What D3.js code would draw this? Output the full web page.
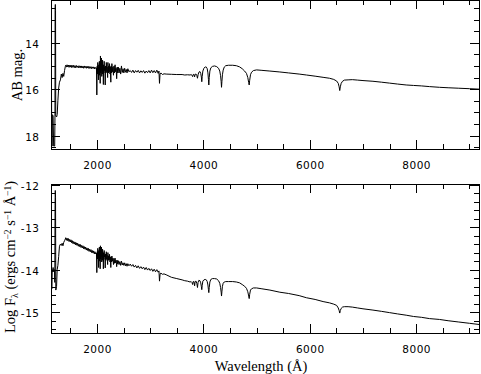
<!DOCTYPE html>
<html>
<head>
<meta charset="utf-8">
<script src="https://cdn.jsdelivr.net/npm/d3@7"></script>
<style>
  body { margin: 0; background: #fff; }
  .tick text { font-family: "DejaVu Sans", sans-serif; font-size: 10.5px; letter-spacing: 0.5px; fill: #000; }
  .title { font-family: "Liberation Serif", "DejaVu Serif", serif; font-size: 14.5px; fill: #000; }
</style>
</head>
<body>
<svg id="spec"></svg>
<script>
// wavelength ticks (Angstrom)
const waveMajor = [2000, 4000, 6000, 8000];
const waveMinor = [1500, 2000, 2500, 3000, 3500, 4000, 4500, 5000, 5500, 6000, 6500, 7000, 7500, 8000, 8500, 9000];
// AB mag ticks
const magMajor = [14, 16, 18];
const magMinor = [12.5, 13, 13.5, 14, 14.5, 15, 15.5, 16, 16.5, 17, 17.5, 18, 18.5];
// log flux ticks
const fluxMajor = [-12, -13, -14, -15];
const fluxMinor = [-12.2, -12.4, -12.6, -12.8, -13, -13.2, -13.4, -13.6, -13.8, -14, -14.2, -14.4, -14.6, -14.8, -15, -15.2, -15.4];

// spectrum: [wavelength, AB mag]
const abMag = [
  [1146,16.4],[1150,18.45],[1158,18.45],[1162,17.1],[1175,17.15],[1185,18.45],[1205,18.45],[1210,17.2],
  [1213,12.5],[1217,12.35],[1221,12.6],[1225,17.15],[1240,17.2],[1252,17.1],[1265,16.5],[1280,15.95],
  [1295,15.7],[1313,15.6],[1330,15.35],[1345,15.5],[1360,15.32],[1375,15.45],[1390,15.2],[1405,15.02],
  [1412,14.97],[1425,15.05],[1437,14.95],[1450,15.04],[1462,14.96],[1475,15.06],[1487,14.97],[1500,15.05],
  [1512,14.96],[1525,15.07],[1537,14.98],[1550,15.06],[1562,14.97],[1575,15.07],[1587,14.99],[1600,15.08],
  [1612,14.98],[1625,15.06],[1637,15.0],[1650,15.08],[1662,14.99],[1675,15.07],[1687,15.0],[1700,15.09],
  [1712,15.0],[1725,15.08],[1737,15.01],[1750,15.1],[1762,15.0],[1775,15.08],[1787,15.02],[1800,15.1],
  [1812,15.01],[1825,15.09],[1837,15.02],[1850,15.11],[1862,15.03],[1875,15.1],[1887,15.03],[1900,15.12],
  [1912,15.04],[1925,15.1],[1937,15.04],[1950,15.13],[1962,15.05],[1975,15.11],[1990,15.08],
  [1997,16.25],[2003,15.2],
  [2005,15.0],[2010,15.35],[2015,14.85],[2020,15.3],[2025,15.05],[2030,15.6],[2035,14.95],[2040,15.25],
  [2045,14.8],[2050,15.4],[2055,15.0],[2060,15.75],[2065,14.57],[2070,15.3],[2075,14.9],[2080,15.2],
  [2085,14.66],[2090,15.45],[2095,15.0],[2100,15.35],[2105,14.75],[2110,15.25],[2115,15.0],[2120,15.8],
  [2125,14.95],[2130,15.3],[2135,14.8],[2140,15.2],[2150,15.05],[2155,15.82],[2160,15.0],[2170,15.3],
  [2175,14.85],[2185,15.25],[2190,15.05],[2200,15.5],[2205,14.85],[2215,15.3],[2220,15.0],[2230,15.25],
  [2235,14.9],[2245,15.35],[2250,15.05],[2260,15.7],[2265,15.0],[2275,15.3],[2280,14.9],[2290,15.25],
  [2300,15.05],[2310,15.4],[2320,15.0],[2330,15.3],[2340,14.95],[2350,15.25],[2360,15.1],[2370,15.55],
  [2380,15.05],[2390,15.3],[2400,15.05],[2415,15.3],[2430,15.1],[2445,15.35],[2460,15.0],[2475,15.28],
  [2490,15.12],[2505,15.3],[2520,15.1],[2535,15.27],[2550,15.15],[2565,15.3],[2580,15.12],[2600,15.25],
  [2625,15.2],[2650,15.28],[2675,15.18],[2700,15.3],[2725,15.2],[2750,15.27],[2775,15.19],[2800,15.3],
  [2825,15.21],[2850,15.28],[2875,15.2],[2900,15.31],[2925,15.22],[2950,15.29],[2975,15.2],[3000,15.3],
  [3025,15.18],[3050,15.29],[3075,15.2],[3100,15.3],[3125,15.18],[3150,15.32],[3165,15.22],[3175,15.75],
  [3185,15.35],[3200,15.3],[3230,15.37],[3260,15.34],[3300,15.35],[3400,15.36],[3500,15.37],[3600,15.37],
  [3650,15.39],[3700,15.38],
  [3750,15.39],[3770,15.37],[3785,15.4],[3798,15.46],[3808,15.37],[3822,15.36],[3835,15.47],[3845,15.36],
  [3862,15.35],[3878,15.42],[3889,15.53],[3900,15.38],[3915,15.27],[3935,15.24],[3950,15.32],[3962,15.48],
  [3970,15.68],[3978,15.45],[3990,15.22],[4010,15.1],[4035,15.04],[4055,15.05],[4072,15.12],[4085,15.3],
  [4095,15.58],[4102,15.82],[4110,15.5],[4122,15.22],[4140,15.08],[4170,15.02],[4210,15.0],[4250,15.03],
  [4285,15.1],[4308,15.22],[4323,15.42],[4334,15.68],[4341,15.92],[4348,15.68],[4358,15.38],[4372,15.18],
  [4392,15.05],[4420,14.99],[4470,14.97],[4550,14.97],[4620,14.99],[4680,15.04],[4730,15.12],[4775,15.22],
  [4810,15.32],[4835,15.5],[4852,15.72],[4861,15.82],[4870,15.62],[4885,15.38],[4905,15.27],[4940,15.2],
  [5000,15.17],
  [5100,15.19],[5250,15.22],[5437,15.26],[5600,15.3],[5800,15.35],[5937,15.39],[6100,15.44],[6250,15.49],
  [6370,15.53],[6450,15.58],[6505,15.65],[6535,15.75],[6552,15.9],[6563,16.06],[6574,15.9],[6590,15.75],
  [6615,15.66],[6650,15.61],[6720,15.6],[6800,15.59],[6900,15.61],[7000,15.63],[7187,15.66],[7350,15.7],
  [7500,15.74],[7650,15.78],[7812,15.82],[7950,15.84],[8100,15.86],[8250,15.89],[8437,15.92],[8600,15.94],
  [8800,15.96],[9000,15.98],[9190,16.0]
];

// spectrum: [wavelength, log F_lambda]
const logFlux = [
  [1146,-13.76],[1150,-14.45],[1158,-14.0],[1165,-14.05],[1175,-13.95],[1185,-14.05],[1200,-14.0],[1207,-14.3],
  [1212,-12.5],[1216,-12.14],[1221,-12.3],[1226,-14.48],[1240,-14.4],[1252,-14.0],[1265,-13.9],[1280,-13.69],
  [1295,-13.45],[1313,-13.4],[1330,-13.43],[1345,-13.38],[1360,-13.44],[1375,-13.36],[1390,-13.32],[1405,-13.28],
  [1412,-13.25],[1425,-13.31],[1437,-13.26],[1450,-13.32],[1462,-13.27],[1475,-13.34],[1487,-13.29],[1500,-13.35],
  [1512,-13.3],[1525,-13.37],[1537,-13.32],[1550,-13.39],[1562,-13.34],[1575,-13.4],[1587,-13.35],[1600,-13.42],
  [1612,-13.37],[1625,-13.43],[1637,-13.38],[1650,-13.45],[1662,-13.4],[1675,-13.46],[1687,-13.41],[1700,-13.48],
  [1712,-13.43],[1725,-13.49],[1737,-13.44],[1750,-13.51],[1762,-13.46],[1775,-13.52],[1787,-13.47],[1800,-13.54],
  [1812,-13.49],[1825,-13.55],[1837,-13.5],[1850,-13.57],[1862,-13.52],[1875,-13.58],[1887,-13.53],[1900,-13.6],
  [1912,-13.55],[1925,-13.61],[1937,-13.56],[1950,-13.63],[1962,-13.58],[1975,-13.63],[1990,-13.61],
  [1997,-14.07],[2003,-13.65],
  [2005,-13.58],[2010,-13.75],[2015,-13.5],[2020,-13.72],[2025,-13.6],[2030,-13.95],[2035,-13.55],[2040,-13.72],
  [2045,-13.47],[2050,-13.8],[2055,-13.6],[2060,-13.98],[2065,-13.44],[2070,-13.75],[2075,-13.55],[2080,-13.7],
  [2085,-13.47],[2090,-13.82],[2095,-13.6],[2100,-13.78],[2105,-13.52],[2110,-13.72],[2115,-13.62],[2120,-13.98],
  [2125,-13.6],[2130,-13.76],[2135,-13.55],[2140,-13.7],[2150,-13.65],[2155,-13.96],[2160,-13.63],[2170,-13.78],
  [2175,-13.58],[2185,-13.75],[2190,-13.66],[2200,-13.88],[2205,-13.6],[2215,-13.78],[2220,-13.68],[2230,-13.77],
  [2235,-13.64],[2245,-13.82],[2250,-13.7],[2260,-13.95],[2265,-13.7],[2275,-13.82],[2280,-13.68],[2290,-13.8],
  [2300,-13.73],[2310,-13.88],[2320,-13.74],[2330,-13.85],[2340,-13.73],[2350,-13.84],[2360,-13.78],[2370,-13.93],
  [2380,-13.78],[2390,-13.87],[2400,-13.79],[2415,-13.88],[2430,-13.81],[2445,-13.9],[2460,-13.8],[2475,-13.89],
  [2490,-13.84],[2505,-13.9],[2520,-13.84],[2535,-13.91],[2550,-13.86],[2565,-13.92],[2580,-13.86],[2600,-13.91],
  [2625,-13.87],[2650,-13.92],[2675,-13.88],[2700,-13.94],[2725,-13.9],[2750,-13.96],[2775,-13.91],[2800,-13.97],
  [2825,-13.93],[2850,-13.98],[2875,-13.94],[2900,-14.0],[2925,-13.95],[2950,-14.01],[2975,-13.97],[3000,-14.02],
  [3025,-13.98],[3050,-14.04],[3075,-13.99],[3100,-14.05],[3125,-14.0],[3150,-14.06],[3165,-14.03],[3175,-14.27],
  [3185,-14.12],[3200,-14.08],[3230,-14.11],[3260,-14.1],[3300,-14.12],[3400,-14.18],[3500,-14.21],[3600,-14.24],
  [3650,-14.26],[3700,-14.27],
  [3750,-14.29],[3770,-14.28],[3785,-14.3],[3798,-14.35],[3808,-14.28],[3822,-14.28],[3835,-14.38],[3845,-14.28],
  [3862,-14.27],[3878,-14.33],[3889,-14.42],[3900,-14.3],[3915,-14.25],[3935,-14.26],[3950,-14.31],[3962,-14.4],
  [3970,-14.47],[3978,-14.37],[3990,-14.27],[4010,-14.24],[4035,-14.23],[4055,-14.24],[4072,-14.28],[4085,-14.36],
  [4095,-14.47],[4102,-14.54],[4110,-14.42],[4122,-14.29],[4140,-14.23],[4170,-14.21],[4210,-14.21],[4250,-14.22],
  [4285,-14.26],[4308,-14.32],[4323,-14.42],[4334,-14.53],[4341,-14.62],[4348,-14.52],[4358,-14.39],[4372,-14.32],
  [4392,-14.29],[4420,-14.28],[4470,-14.28],[4550,-14.28],[4620,-14.29],[4680,-14.31],[4730,-14.35],[4775,-14.39],
  [4810,-14.44],[4835,-14.52],[4852,-14.62],[4861,-14.68],[4870,-14.58],[4885,-14.48],[4905,-14.45],[4940,-14.43],
  [5000,-14.43],
  [5100,-14.45],[5250,-14.48],[5437,-14.53],[5600,-14.56],[5800,-14.61],[5937,-14.66],[6100,-14.7],[6250,-14.75],
  [6370,-14.78],[6450,-14.81],[6505,-14.84],[6535,-14.9],[6552,-14.96],[6563,-15.02],[6574,-14.96],[6590,-14.91],
  [6615,-14.88],[6650,-14.87],[6720,-14.87],[6800,-14.88],[6900,-14.9],[7000,-14.92],[7187,-14.95],[7350,-14.98],
  [7500,-15.01],[7650,-15.04],[7812,-15.07],[7950,-15.1],[8100,-15.12],[8250,-15.15],[8437,-15.17],[8600,-15.2],
  [8800,-15.23],[9000,-15.26],[9190,-15.29]
];

const W = 481, H = 374;
const left = 51.5, right = 479.5;

const svg = d3.select("#spec").attr("width", W).attr("height", H);
svg.append("rect").attr("width", W).attr("height", H).attr("fill", "#fff");

const x = d3.scaleLinear().domain([1145, 9190]).range([left, right]);

function panel(id, top, bottom, yDomain, major, minor, data, fmt) {
    const y = d3.scaleLinear().domain(yDomain).range([top, bottom]);
    const g = svg.append("g").attr("id", id);

    g.append("clipPath").attr("id", id + "-clip")
        .append("rect").attr("x", left).attr("y", top).attr("width", right - left).attr("height", bottom - top);

    // spectrum
    const line = d3.line().x(d => x(d[0])).y(d => y(d[1]));
    g.append("path")
        .datum(data)
        .attr("d", line)
        .attr("clip-path", `url(#${id}-clip)`)
        .attr("fill", "none")
        .attr("stroke", "#000")
        .attr("stroke-width", 1)
        .attr("stroke-linejoin", "miter");

    // inward ticks on all four sides
    const tickSet = [
        [d3.axisBottom(x), bottom, null, waveMinor, 5],
        [d3.axisBottom(x), bottom, null, waveMajor, 9],
        [d3.axisTop(x), top, null, waveMinor, 5],
        [d3.axisTop(x), top, null, waveMajor, 9],
        [d3.axisLeft(y), null, left, minor, 5],
        [d3.axisLeft(y), null, left, major, 9],
        [d3.axisRight(y), null, right, minor, 5],
        [d3.axisRight(y), null, right, major, 9]
    ];
    tickSet.forEach(([ax, ty, tx, vals, len]) => {
        const a = g.append("g")
            .attr("transform", ty !== null ? `translate(0,${ty - 0.5})` : `translate(${tx - 0.5},0)`)
            .call(ax.tickValues(vals).tickSize(-len).tickFormat(""));
        a.select(".domain").remove();
        a.selectAll("line").attr("stroke", "#000").attr("shape-rendering", "crispEdges");
    });

    // tick labels
    const xl = g.append("g")
        .attr("transform", `translate(0,${bottom})`)
        .call(d3.axisBottom(x).tickValues(waveMajor).tickSize(0).tickFormat(d3.format("d")));
    xl.select(".domain").remove();
    xl.selectAll("text").attr("y", 19.5).attr("dy", null);

    const yl = g.append("g")
        .attr("transform", `translate(${left},0)`)
        .call(d3.axisLeft(y).tickValues(major).tickSize(0).tickFormat(fmt));
    yl.select(".domain").remove();
    yl.selectAll("text").attr("x", -12).attr("dy", "0.45em");

    // frame
    g.append("rect")
        .attr("x", left).attr("y", top)
        .attr("width", right - left).attr("height", bottom - top)
        .attr("fill", "none").attr("stroke", "#000")
        .attr("shape-rendering", "crispEdges");

    return y;
}

panel("mag", 0.5, 149.5, [12.18, 18.6], magMajor, magMinor, abMag, d3.format("d"));
panel("flux", 184.5, 333.5, [-12, -15.5], fluxMajor, fluxMinor, logFlux, d => String(d));

// axis titles
svg.append("text").attr("class", "title")
    .attr("text-anchor", "middle")
    .attr("transform", "translate(22,75) rotate(-90)")
    .text("AB mag.");

const ft = svg.append("text").attr("class", "title")
    .attr("text-anchor", "middle")
    .attr("transform", "translate(15,257) rotate(-90)");
ft.append("tspan").text("Log F");
ft.append("tspan").attr("font-size", "10px").attr("dy", 3).text("λ");
ft.append("tspan").attr("dy", -3).text(" (ergs cm");
ft.append("tspan").attr("font-size", "9.5px").attr("dy", -4).text("−2");
ft.append("tspan").attr("dy", 4).text(" s");
ft.append("tspan").attr("font-size", "9.5px").attr("dy", -4).text("−1");
ft.append("tspan").attr("dy", 4).text(" Å");
ft.append("tspan").attr("font-size", "9.5px").attr("dy", -4).text("−1");
ft.append("tspan").attr("dy", 4).text(")");

svg.append("text").attr("class", "title")
    .attr("text-anchor", "middle")
    .attr("x", 261).attr("y", 371)
    .text("Wavelength (Å)");
</script>
</body>
</html>
